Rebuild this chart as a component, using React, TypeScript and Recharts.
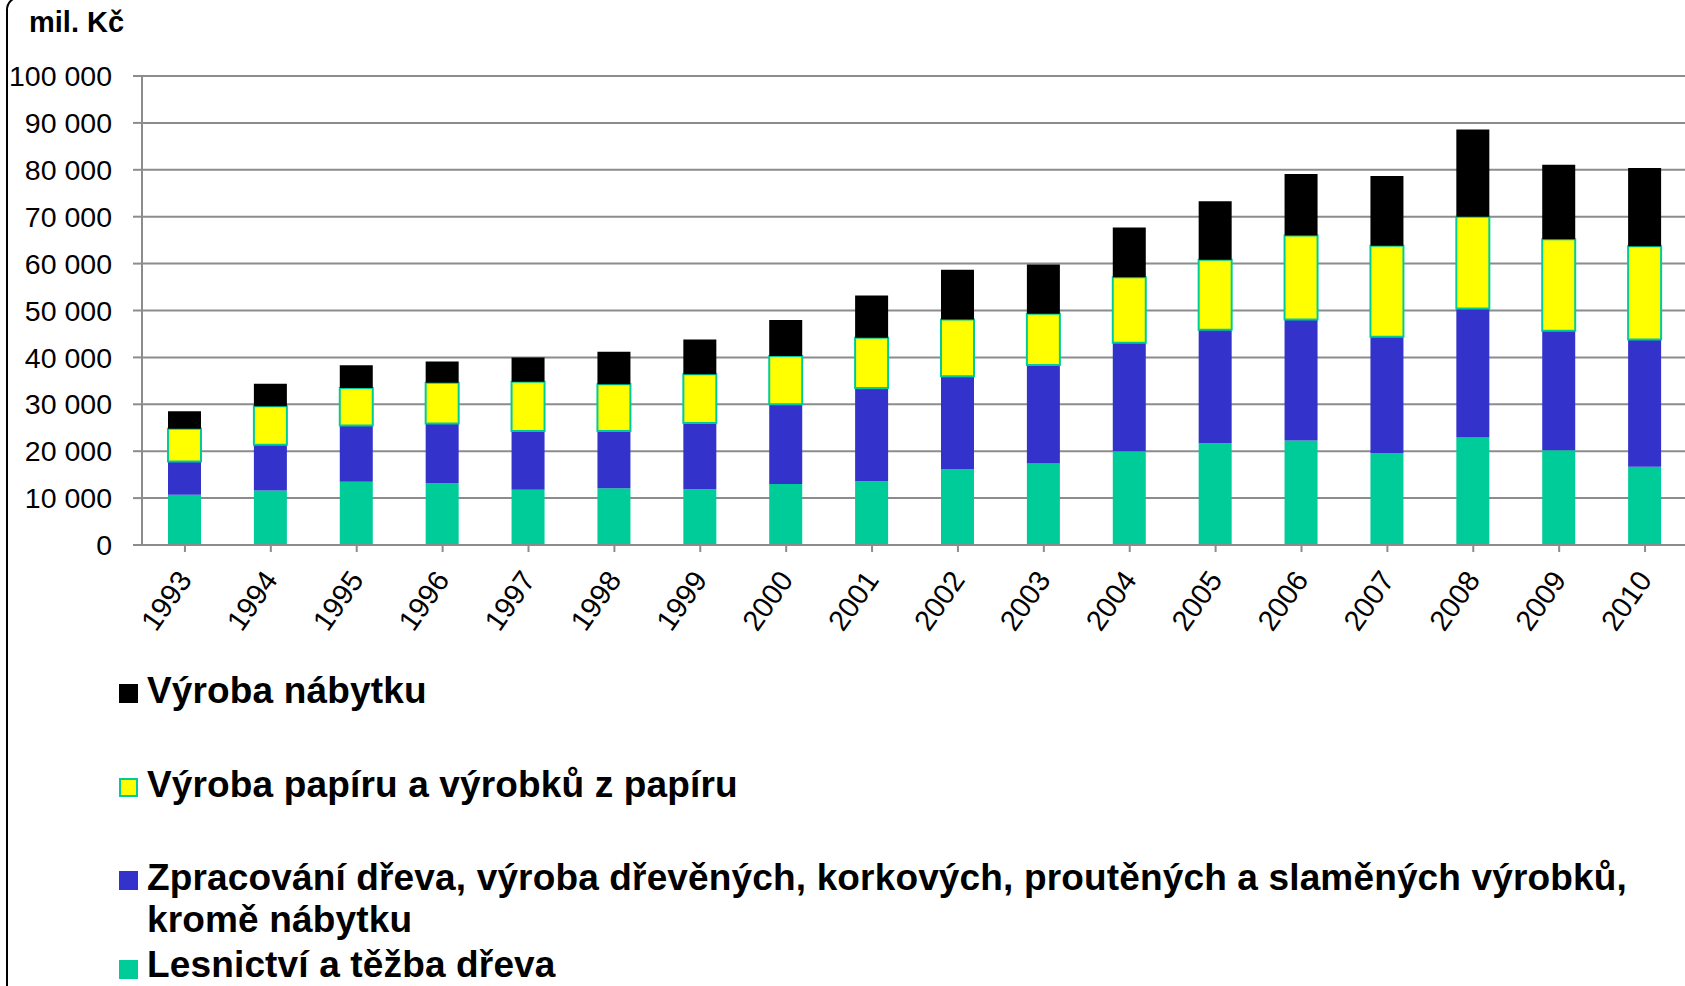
import { Bar, BarChart, CartesianGrid, XAxis, YAxis } from "recharts";

const YEARS = ["1993", "1994", "1995", "1996", "1997", "1998", "1999", "2000", "2001", "2002", "2003", "2004", "2005", "2006", "2007", "2008", "2009", "2010"];

// mil. Kč
const LESNICTVI = [10700, 11600, 13500, 13200, 11800, 12100, 11900, 13000, 13600, 16200, 17400, 20000, 21700, 22300, 19600, 22900, 20200, 16700];
const ZPRACOVANI = [7100, 9800, 12000, 12700, 12500, 12200, 14100, 17000, 19900, 19800, 21000, 23100, 24200, 25800, 24800, 27500, 25500, 27100];
const PAPIR = [7000, 8200, 8000, 8700, 10500, 10000, 10400, 10300, 10700, 12100, 10900, 14000, 14900, 17900, 19400, 19600, 19500, 19900];
const NABYTEK = [3700, 4800, 4800, 4500, 5200, 6900, 7400, 7700, 9000, 10600, 10500, 10600, 12500, 13100, 14900, 18600, 15900, 16700];

const Y_TICKS = [0, 10000, 20000, 30000, 40000, 50000, 60000, 70000, 80000, 90000, 100000];

// stacked bottom -> top
const SERIES = [
  { key: "lesnictvi", name: "Lesnictví a těžba dřeva", fill: "#00CC99", stroke: "none" },
  { key: "zpracovani", name: "Zpracování dřeva, výroba dřevěných, korkových, proutěných a slaměných výrobků, kromě nábytku", fill: "#3333CC", stroke: "none" },
  { key: "papir", name: "Výroba papíru a výrobků z papíru", fill: "#FFFF00", stroke: "#00CC99" },
  { key: "nabytek", name: "Výroba nábytku", fill: "#000000", stroke: "none" },
];

const data = YEARS.map((year, i) => ({
  year,
  lesnictvi: LESNICTVI[i],
  zpracovani: ZPRACOVANI[i],
  papir: PAPIR[i],
  nabytek: NABYTEK[i],
}));

const FONT = '"Liberation Sans", Arial, sans-serif';
const fmt = (v: number) => String(v).replace(/\B(?=(\d{3})+(?!\d))/g, " ");

const YearTick = ({ x, y, payload }: any) => (
  <text
    transform={`translate(${x + 8},${y + 28}) rotate(-55)`}
    textAnchor="end"
    fontSize={29}
    fontFamily={FONT}
    fill="#000"
  >
    {payload.value}
  </text>
);

// legend rows, top -> bottom: line box top, line height, marker offset
const LEGEND_ROWS = [
  { top: 670, lh: 42, mk: 14 },
  { top: 764, lh: 42, mk: 14 },
  { top: 857, lh: 42, mk: 14 },
  { top: 947, lh: 36, mk: 13 },
];

export default function App() {
  const legendItems = [...SERIES].reverse();
  return (
    <div style={{ position: "absolute", left: 0, top: 0, width: 1685, height: 986, overflow: "hidden", background: "#fff", fontFamily: FONT }}>
      <div
        style={{
          position: "absolute",
          left: 6,
          top: -4,
          width: 1720,
          height: 1100,
          border: "2px solid #000",
          borderRadius: 14,
          boxSizing: "border-box",
        }}
      />
      <div style={{ position: "absolute", left: 29, top: 6, fontSize: 29, fontWeight: "bold", lineHeight: "32px" }}>mil. Kč</div>

      <div style={{ position: "absolute", left: 0, top: 0 }}>
        <BarChart width={1690} height={640} data={data} margin={{ top: 76, right: 2, left: 0, bottom: 0 }} barSize={33}>
          <CartesianGrid vertical={false} stroke="#8c8c8c" strokeWidth={2} />
          <XAxis
            dataKey="year"
            height={95}
            interval={0}
            tick={<YearTick />}
            tickSize={7}
            tickMargin={0}
            axisLine={{ stroke: "#8c8c8c", strokeWidth: 2 }}
            tickLine={{ stroke: "#8c8c8c", strokeWidth: 2 }}
          />
          <YAxis
            width={142}
            domain={[0, 100000]}
            ticks={Y_TICKS}
            interval={0}
            tickFormatter={fmt}
            tick={{ fontSize: 28.5, fill: "#000", fontFamily: FONT }}
            tickSize={9}
            tickMargin={21}
            axisLine={{ stroke: "#8c8c8c", strokeWidth: 2 }}
            tickLine={{ stroke: "#8c8c8c", strokeWidth: 2 }}
          />
          {SERIES.map((s) => (
            <Bar
              key={s.key}
              dataKey={s.key}
              name={s.name}
              stackId="a"
              fill={s.fill}
              stroke={s.stroke}
              strokeWidth={s.stroke === "none" ? 0 : 2}
              isAnimationActive={false}
            />
          ))}
        </BarChart>
      </div>

      {legendItems.map((s, i) => (
        <div key={s.key} style={{ position: "absolute", left: 0, top: LEGEND_ROWS[i].top }}>
          <div
            style={{
              position: "absolute",
              left: 119,
              top: LEGEND_ROWS[i].mk,
              width: 19,
              height: 19,
              background: s.fill,
              boxSizing: "border-box",
              border: s.stroke === "none" ? "none" : `2px solid ${s.stroke}`,
            }}
          />
          <div
            style={{
              position: "absolute",
              left: 147,
              top: 0,
              width: 1525,
              fontSize: 37,
              letterSpacing: 0.15,
              fontWeight: "bold",
              lineHeight: `${LEGEND_ROWS[i].lh}px`,
              color: "#000",
            }}
          >
            {s.name}
          </div>
        </div>
      ))}
    </div>
  );
}
